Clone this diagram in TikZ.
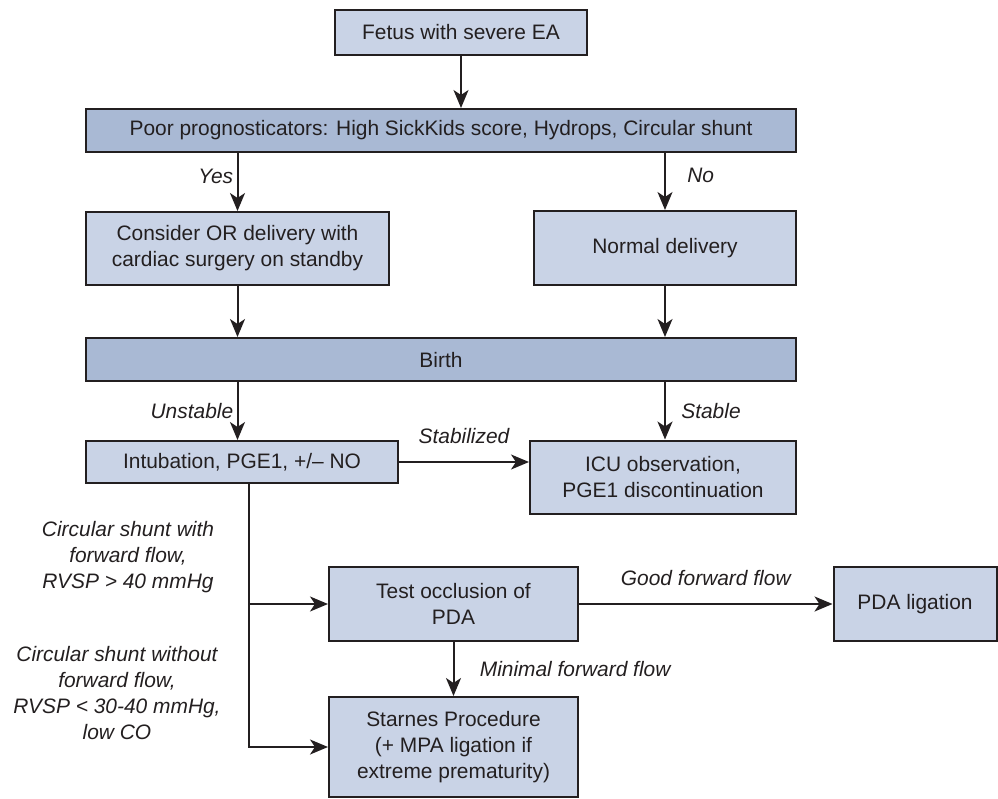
\documentclass[tikz,border=0pt]{standalone}
\usepackage{fontspec}
\setmainfont{Liberation Sans}
\usetikzlibrary{positioning,arrows.meta}
\definecolor{eablue}{RGB}{201,211,230}
\definecolor{eadark}{RGB}{169,185,212}
\definecolor{eaink}{RGB}{35,31,32}

\begin{document}
\begin{tikzpicture}[
    x=1bp, y=-1bp,
    font=\fontsize{21}{26}\selectfont,
    box/.style={
      draw=eaink, fill=eablue, line width=2bp, text=eaink,
      align=center, inner sep=0pt
    },
    bar/.style={box, fill=eadark, minimum width=710bp, minimum height=43bp},
    arr/.style={-{Stealth[length=18bp, width=15bp, inset=5bp]}, line width=2bp, eaink},
    lbl/.style={font=\fontsize{21}{26}\selectfont\itshape, text=eaink}
  ]
  \useasboundingbox (0,0) rectangle (998,799);

  % top of the tree
  \node[box, minimum width=252bp, minimum height=45bp] (fetus) at (461,32.5)
    {Fetus with severe EA};
  \node[bar] (prog) at (441,130.5)
    {Poor prognosticators: High SickKids score, Hydrops, Circular shunt};
  \node[box, minimum width=303bp, minimum height=73bp] (consider) at (237.5,248.5)
    {Consider OR delivery with\\cardiac surgery on standby};
  \node[box, minimum width=262bp, minimum height=74bp] (normal) at (665,248)
    {Normal delivery};
  \node[bar] (birth) at (441,359.5) {Birth};

  % after birth
  \node[box, minimum width=312bp, minimum height=42bp] (intub) at (242,462)
    {Intubation, PGE1, +/-- NO};
  \node[box, minimum width=266bp, minimum height=73bp] (icu) at (663,477)
    {ICU observation,\\PGE1 discontinuation};
  \node[box, minimum width=249bp, minimum height=74bp] (test) at (453.5,604)
    {Test occlusion of\\PDA};
  \node[box, minimum width=163bp, minimum height=74bp] (pdalig) at (915,604)
    {PDA ligation};
  \node[box, minimum width=249bp, minimum height=100bp] (starnes) at (453.5,747)
    {Starnes Procedure\\(+ MPA ligation if\\extreme prematurity)};

  \node[lbl, align=center] (fwd) at (128,557)
    {Circular shunt with\\forward flow,\\RVSP > 40 mmHg};
  \node[lbl, align=center] (nofwd) at (117,693)
    {Circular shunt without\\forward flow,\\RVSP < 30-40 mmHg,\\low CO};
  \coordinate[xshift=7bp] (fork) at (intub.south);

  \draw[arr] (fetus) -- (fetus|-prog.north);
  \draw[arr] (consider|-prog.south) -- node[lbl, left, pos=0.4] {Yes} (consider);
  \draw[arr] (normal|-prog.south) -- node[lbl, right=18bp, pos=0.4] {No} (normal);
  \draw[arr] (consider) -- (consider|-birth.north);
  \draw[arr] (normal) -- (normal|-birth.north);
  \draw[arr] (consider|-birth.south) -- node[lbl, left] {Unstable} (consider|-intub.north);
  \draw[arr] (normal|-birth.south) -- node[lbl, right=12bp] {Stable} (normal|-icu.north);
  \draw[arr] (intub) -- node[lbl, above=14bp] {Stabilized} (intub-|icu.west);
  \draw[arr] (fork) |- (test);
  \draw[arr] (fork) |- (starnes);
  \draw[arr] (test) -- node[lbl, above=14bp] {Good forward flow} (pdalig);
  \draw[arr] (test) -- node[lbl, right=22bp] {Minimal forward flow} (starnes);
\end{tikzpicture}
\end{document}
